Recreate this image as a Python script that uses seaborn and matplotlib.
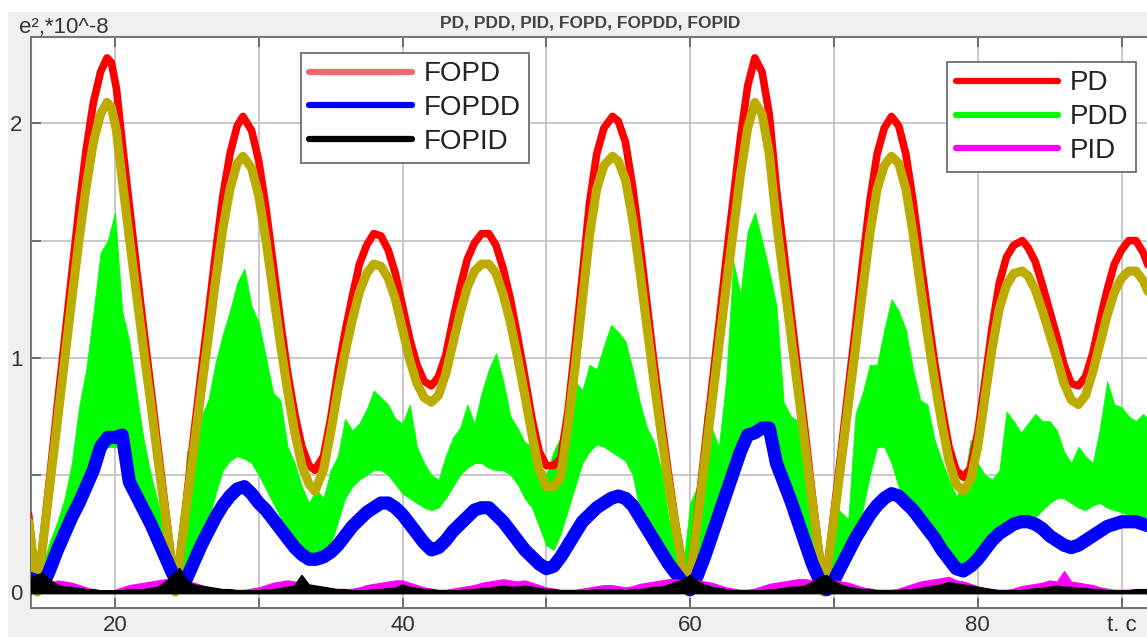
import numpy as np
import matplotlib
matplotlib.use("Agg")
import matplotlib.pyplot as plt
import seaborn as sns
from matplotlib.lines import Line2D
from matplotlib.patches import Rectangle

# ---------------- data ----------------
T_MAIN = [14.0, 14.5, 14.6, 15.0, 15.5, 16.0, 16.5, 17.0, 17.5, 18.0,
          18.5, 19.0, 19.45, 19.75, 20.1, 20.5, 21.0, 21.5, 22.0, 22.5,
          23.0, 23.5, 24.0, 24.2, 24.5, 25.0, 25.5, 26.0, 26.5, 27.0,
          27.5, 28.0, 28.5, 28.9, 29.5, 30.0, 30.5, 31.0, 31.5, 32.0,
          32.5, 33.0, 33.5, 33.9, 34.5, 35.0, 35.5, 36.0, 36.5, 37.0,
          37.5, 38.0, 38.5, 39.0, 39.5, 40.0, 40.5, 41.0, 41.5, 42.0,
          42.5, 43.0, 43.5, 44.0, 44.5, 45.0, 45.5, 46.0, 46.5, 47.0,
          47.5, 48.0, 48.5, 49.0, 49.5, 50.0, 50.5, 51.0, 51.5, 52.0,
          52.5, 53.0, 53.5, 54.0, 54.6, 55.0, 55.5, 56.0, 56.5, 57.0,
          57.5, 58.0, 58.5, 59.0, 59.5, 59.9, 60.5, 61.0, 61.5, 62.0,
          62.5, 63.0, 63.5, 64.0, 64.5, 65.0, 65.5, 66.0, 66.5, 67.0,
          67.5, 68.0, 68.5, 69.0, 69.3, 69.5, 70.0, 70.5, 71.0, 71.5,
          72.0, 72.5, 73.0, 73.5, 74.0, 74.5, 75.0, 75.5, 76.0, 76.5,
          77.0, 77.5, 78.0, 78.5, 79.0, 79.5, 80.0, 80.5, 81.0, 81.5,
          82.0, 82.5, 83.1, 83.5, 84.0, 84.5, 85.0, 85.5, 86.0, 86.5,
          87.0, 87.5, 88.0, 88.5, 89.0, 89.5, 90.0, 90.5, 91.0, 91.5,
          92.0]

PD = [0.33, 0.05, 0.00, 0.23, 0.51, 0.80, 1.08, 1.36, 1.64, 1.89,
      2.09, 2.22, 2.28, 2.26, 2.15, 1.92, 1.65, 1.38, 1.12, 0.87,
      0.61, 0.36, 0.11, 0.00, 0.15, 0.41, 0.68, 0.94, 1.19, 1.45,
      1.69, 1.87, 1.99, 2.03, 1.97, 1.84, 1.64, 1.40, 1.16, 0.94,
      0.76, 0.62, 0.54, 0.52, 0.58, 0.74, 0.94, 1.11, 1.26, 1.40,
      1.48, 1.53, 1.52, 1.46, 1.36, 1.22, 1.08, 0.97, 0.90, 0.88,
      0.92, 1.01, 1.16, 1.30, 1.42, 1.49, 1.53, 1.53, 1.48, 1.38,
      1.25, 1.09, 0.92, 0.74, 0.60, 0.54, 0.54, 0.57, 0.77, 1.05,
      1.35, 1.66, 1.87, 1.98, 2.03, 2.01, 1.92, 1.73, 1.49, 1.23,
      0.97, 0.73, 0.50, 0.29, 0.11, 0.00, 0.33, 0.60, 0.87, 1.14,
      1.42, 1.68, 1.94, 2.16, 2.28, 2.22, 2.04, 1.72, 1.46, 1.20,
      0.94, 0.68, 0.41, 0.16, 0.00, 0.09, 0.34, 0.60, 0.87, 1.13,
      1.41, 1.67, 1.87, 1.98, 2.03, 1.99, 1.87, 1.67, 1.43, 1.20,
      0.98, 0.79, 0.62, 0.52, 0.49, 0.53, 0.68, 0.90, 1.13, 1.32,
      1.43, 1.48, 1.50, 1.47, 1.41, 1.31, 1.20, 1.09, 0.97, 0.89,
      0.88, 0.92, 1.02, 1.16, 1.29, 1.40, 1.46, 1.50, 1.50, 1.45,
      1.37]

FOPD = [0.30, 0.05, 0.00, 0.21, 0.47, 0.73, 0.99, 1.25, 1.50, 1.73,
        1.92, 2.04, 2.09, 2.07, 1.97, 1.76, 1.51, 1.27, 1.03, 0.80,
        0.56, 0.33, 0.10, 0.00, 0.14, 0.38, 0.62, 0.86, 1.09, 1.33,
        1.55, 1.72, 1.83, 1.86, 1.81, 1.69, 1.50, 1.28, 1.06, 0.86,
        0.68, 0.54, 0.46, 0.43, 0.52, 0.68, 0.86, 1.02, 1.16, 1.28,
        1.36, 1.40, 1.39, 1.34, 1.25, 1.12, 0.99, 0.89, 0.83, 0.81,
        0.84, 0.93, 1.06, 1.19, 1.30, 1.37, 1.40, 1.40, 1.36, 1.27,
        1.15, 1.00, 0.84, 0.67, 0.52, 0.45, 0.45, 0.49, 0.71, 0.96,
        1.24, 1.52, 1.72, 1.82, 1.86, 1.84, 1.76, 1.59, 1.37, 1.13,
        0.89, 0.67, 0.46, 0.27, 0.10, 0.00, 0.30, 0.55, 0.80, 1.05,
        1.30, 1.54, 1.78, 1.98, 2.09, 2.04, 1.87, 1.58, 1.34, 1.10,
        0.86, 0.62, 0.38, 0.15, 0.00, 0.08, 0.31, 0.55, 0.80, 1.04,
        1.29, 1.53, 1.72, 1.82, 1.86, 1.83, 1.72, 1.53, 1.31, 1.10,
        0.90, 0.72, 0.56, 0.46, 0.43, 0.48, 0.62, 0.83, 1.04, 1.21,
        1.31, 1.36, 1.37, 1.35, 1.29, 1.20, 1.10, 1.00, 0.89, 0.82,
        0.80, 0.84, 0.94, 1.06, 1.18, 1.28, 1.34, 1.37, 1.37, 1.33,
        1.26]

# sample times of the noisy signals (every 0.5 s, 14 .. 92)
T_GRID = np.arange(14.0, 92.25, 0.5)

FOPDD = [0.06, 0.05, 0.03, 0.10, 0.18, 0.25, 0.32, 0.38, 0.45, 0.52,
         0.62, 0.66, 0.66, 0.67, 0.47, 0.41, 0.35, 0.29, 0.22, 0.15,
         0.08, 0.02, 0.06, 0.13, 0.20, 0.26, 0.32, 0.37, 0.41, 0.44,
         0.45, 0.42, 0.38, 0.35, 0.31, 0.27, 0.23, 0.19, 0.16, 0.14,
         0.14, 0.15, 0.17, 0.20, 0.24, 0.28, 0.31, 0.34, 0.36, 0.38,
         0.38, 0.36, 0.33, 0.29, 0.25, 0.21, 0.18, 0.19, 0.22, 0.26,
         0.29, 0.32, 0.35, 0.36, 0.36, 0.33, 0.30, 0.26, 0.22, 0.18,
         0.15, 0.12, 0.10, 0.11, 0.15, 0.20, 0.25, 0.30, 0.33, 0.36,
         0.38, 0.40, 0.41, 0.40, 0.37, 0.32, 0.27, 0.22, 0.17, 0.12,
         0.08, 0.04, 0.01, 0.07, 0.15, 0.24, 0.33, 0.42, 0.51, 0.60,
         0.67, 0.68, 0.70, 0.70, 0.55, 0.47, 0.39, 0.30, 0.21, 0.12,
         0.05, 0.01, 0.05, 0.11, 0.17, 0.23, 0.28, 0.33, 0.37, 0.40,
         0.42, 0.41, 0.38, 0.35, 0.31, 0.27, 0.23, 0.18, 0.14, 0.10,
         0.09, 0.11, 0.14, 0.18, 0.22, 0.25, 0.27, 0.29, 0.30, 0.30,
         0.29, 0.27, 0.24, 0.22, 0.20, 0.19, 0.20, 0.22, 0.24, 0.26,
         0.28, 0.29, 0.30, 0.30, 0.30, 0.29, 0.28]

PDD_HI = [0.10, 0.18, 0.12, 0.22, 0.30, 0.40, 0.55, 0.79, 0.95, 1.19,
          1.45, 1.50, 1.62, 1.20, 1.07, 0.85, 0.65, 0.50, 0.38, 0.25,
          0.12, 0.05, 0.60, 0.62, 0.75, 0.82, 0.98, 1.10, 1.20, 1.32,
          1.38, 1.22, 1.15, 1.00, 0.85, 0.82, 0.62, 0.55, 0.45, 0.38,
          0.44, 0.40, 0.52, 0.58, 0.74, 0.69, 0.72, 0.78, 0.86, 0.83,
          0.80, 0.74, 0.72, 0.80, 0.62, 0.55, 0.50, 0.48, 0.58, 0.66,
          0.70, 0.80, 0.72, 0.85, 0.95, 1.02, 0.90, 0.75, 0.70, 0.64,
          0.62, 0.55, 0.50, 0.60, 0.66, 0.80, 0.90, 0.86, 0.97, 0.95,
          1.05, 1.14, 1.11, 1.07, 0.95, 0.81, 0.70, 0.64, 0.52, 0.31,
          0.24, 0.10, 0.38, 0.45, 0.76, 0.70, 0.62, 0.90, 1.41, 1.27,
          1.54, 1.62, 1.50, 1.37, 1.22, 0.81, 0.75, 0.73, 0.45, 0.28,
          0.13, 0.06, 0.38, 0.34, 0.31, 0.76, 0.85, 0.97, 0.97, 1.12,
          1.25, 1.20, 1.12, 0.95, 0.82, 0.80, 0.65, 0.56, 0.48, 0.41,
          0.45, 0.65, 0.55, 0.50, 0.48, 0.52, 0.77, 0.73, 0.68, 0.72,
          0.76, 0.73, 0.73, 0.69, 0.60, 0.55, 0.62, 0.58, 0.55, 0.70,
          0.90, 0.80, 0.79, 0.75, 0.73, 0.76, 0.73]

PDD_LO = [0.02, 0.02, 0.01, 0.08, 0.15, 0.22, 0.29, 0.35, 0.42, 0.48,
          0.58, 0.62, 0.62, 0.62, 0.45, 0.39, 0.33, 0.27, 0.20, 0.13,
          0.06, 0.01, 0.06, 0.13, 0.22, 0.30, 0.42, 0.52, 0.56, 0.58,
          0.57, 0.55, 0.50, 0.44, 0.38, 0.32, 0.27, 0.22, 0.18, 0.16,
          0.15, 0.16, 0.20, 0.30, 0.40, 0.45, 0.48, 0.50, 0.52, 0.52,
          0.50, 0.46, 0.42, 0.40, 0.38, 0.36, 0.35, 0.36, 0.40, 0.45,
          0.50, 0.53, 0.55, 0.55, 0.53, 0.52, 0.52, 0.50, 0.46, 0.40,
          0.36, 0.28, 0.20, 0.18, 0.25, 0.35, 0.45, 0.55, 0.60, 0.63,
          0.62, 0.60, 0.58, 0.56, 0.50, 0.35, 0.25, 0.20, 0.15, 0.10,
          0.06, 0.03, 0.01, 0.05, 0.13, 0.22, 0.31, 0.40, 0.49, 0.58,
          0.65, 0.66, 0.68, 0.68, 0.53, 0.45, 0.37, 0.28, 0.19, 0.10,
          0.04, 0.01, 0.04, 0.10, 0.16, 0.22, 0.35, 0.50, 0.62, 0.62,
          0.55, 0.45, 0.36, 0.33, 0.29, 0.25, 0.21, 0.16, 0.12, 0.09,
          0.08, 0.10, 0.13, 0.17, 0.21, 0.25, 0.28, 0.30, 0.31, 0.31,
          0.32, 0.35, 0.38, 0.40, 0.40, 0.38, 0.36, 0.35, 0.37, 0.38,
          0.36, 0.35, 0.34, 0.33, 0.33, 0.32, 0.32]

PID = [0.02, 0.02, 0.03, 0.04, 0.05, 0.045, 0.04, 0.03, 0.02, 0.01,
       0.005, 0.005, 0.01, 0.02, 0.03, 0.035, 0.04, 0.045, 0.05, 0.055,
       0.045, 0.035, 0.045, 0.04, 0.03, 0.02, 0.015, 0.01, 0.01, 0.01,
       0.01, 0.015, 0.02, 0.03, 0.04, 0.045, 0.05, 0.045, 0.04, 0.03,
       0.025, 0.02, 0.015, 0.01, 0.01, 0.015, 0.02, 0.03, 0.035, 0.04,
       0.045, 0.05, 0.05, 0.04, 0.03, 0.02, 0.015, 0.01, 0.01, 0.015,
       0.02, 0.025, 0.03, 0.04, 0.045, 0.05, 0.055, 0.05, 0.045, 0.05,
       0.04, 0.03, 0.02, 0.015, 0.01, 0.01, 0.01, 0.015, 0.02, 0.025,
       0.03, 0.03, 0.025, 0.02, 0.025, 0.035, 0.04, 0.045, 0.05, 0.055,
       0.055, 0.05, 0.04, 0.05, 0.045, 0.04, 0.03, 0.02, 0.015, 0.01,
       0.01, 0.015, 0.025, 0.035, 0.04, 0.045, 0.05, 0.055, 0.055, 0.05,
       0.045, 0.04, 0.05, 0.045, 0.04, 0.03, 0.02, 0.015, 0.01, 0.01,
       0.01, 0.015, 0.025, 0.035, 0.045, 0.05, 0.055, 0.06, 0.065, 0.05,
       0.045, 0.035, 0.025, 0.015, 0.01, 0.01, 0.01, 0.015, 0.025, 0.03,
       0.035, 0.04, 0.05, 0.045, 0.09, 0.045, 0.04, 0.035, 0.03, 0.02,
       0.015, 0.01, 0.01, 0.01, 0.01, 0.01, 0.01]

FOPID = [0.05, 0.07, 0.08, 0.05, 0.03, 0.02, 0.02, 0.015, 0.01, 0.01,
         0.005, 0.005, 0.005, 0.005, 0.01, 0.01, 0.01, 0.015, 0.02, 0.04,
         0.07, 0.10, 0.05, 0.03, 0.025, 0.02, 0.015, 0.01, 0.01, 0.005,
         0.005, 0.005, 0.005, 0.01, 0.01, 0.015, 0.02, 0.025, 0.07, 0.03,
         0.025, 0.02, 0.015, 0.01, 0.01, 0.005, 0.005, 0.005, 0.01, 0.01,
         0.015, 0.015, 0.03, 0.02, 0.015, 0.01, 0.01, 0.005, 0.005, 0.005,
         0.005, 0.01, 0.01, 0.015, 0.015, 0.02, 0.025, 0.02, 0.02, 0.025,
         0.02, 0.015, 0.01, 0.01, 0.005, 0.005, 0.005, 0.005, 0.005, 0.01,
         0.01, 0.01, 0.01, 0.005, 0.01, 0.01, 0.015, 0.02, 0.02, 0.03,
         0.04, 0.05, 0.07, 0.045, 0.03, 0.02, 0.015, 0.01, 0.005, 0.005,
         0.005, 0.005, 0.005, 0.01, 0.01, 0.015, 0.02, 0.02, 0.025, 0.04,
         0.06, 0.07, 0.045, 0.03, 0.02, 0.015, 0.01, 0.01, 0.005, 0.005,
         0.005, 0.005, 0.01, 0.01, 0.015, 0.02, 0.025, 0.03, 0.04, 0.035,
         0.03, 0.025, 0.02, 0.015, 0.01, 0.005, 0.005, 0.005, 0.005, 0.01,
         0.015, 0.015, 0.02, 0.025, 0.02, 0.02, 0.015, 0.015, 0.01, 0.01,
         0.005, 0.005, 0.005, 0.005, 0.01, 0.01, 0.01]

X_TICKS = [20, 30, 40, 50, 60, 70, 80, 90]
X_LABELS = ["20", "", "40", "", "60", "", "80", "t. c"]
Y_TICKS = [0, 0.5, 1, 1.5, 2]
Y_LABELS = ["0", "", "1", "", "2"]
LEG_LEFT = ["FOPD", "FOPDD", "FOPID"]
LEG_RIGHT = ["PD", "PDD", "PID"]
TITLE = "PD, PDD, PID, FOPD, FOPDD, FOPID"
YLABEL = "e\u00b2,*10^-8"

# ---------------- style ----------------
sns.set_style("white")
plt.rcParams["font.family"] = ["Liberation Sans", "DejaVu Sans"]

C_PD = "#ff0000"
C_PDD = "#00ff00"
C_PID = "#ff00ff"
C_FOPD_LEG = "#f06a6a"
C_FOPD = "#bdac00"
C_FOPDD = "#0000ff"
C_FOPID = "#000000"

W, H = 1147, 637
fig = plt.figure(figsize=(W / 100, H / 100), dpi=100)
fig.patch.set_facecolor("#f0f0f0")
fig.add_artist(Rectangle((0, 1 - 12 / H), 1, 12 / H, transform=fig.transFigure,
                         facecolor="white", edgecolor="none", zorder=-5))
fig.add_artist(Rectangle((0, 0), 8 / W, 1, transform=fig.transFigure,
                         facecolor="white", edgecolor="none", zorder=-5))

ax = fig.add_axes([31 / W, 29 / H, 1116 / W, 571 / H])
ax.set_facecolor("white")

line_kw = dict(ax=ax, estimator=None, sort=False, legend=False)
# green PDD band
ax.fill_between(T_GRID, PDD_LO, PDD_HI, color=C_PDD, lw=0.6, edgecolor=C_PDD, zorder=2)
# PD (red) and FOPD (olive)
sns.lineplot(x=T_MAIN, y=PD, color=C_PD, linewidth=5.5, zorder=3,
             solid_joinstyle="round", **line_kw)
sns.lineplot(x=T_MAIN, y=FOPD, color=C_FOPD, linewidth=6.5, zorder=4,
             solid_joinstyle="round", **line_kw)
# FOPDD (blue)
sns.lineplot(x=T_GRID, y=FOPDD, color=C_FOPDD, linewidth=9.5, zorder=5,
             solid_joinstyle="round", **line_kw)
# PID (magenta) and FOPID (black)
ax.fill_between(T_GRID, 0, PID, color=C_PID, lw=0.8, edgecolor=C_PID, zorder=6)
ax.fill_between(T_GRID, -0.006, FOPID, color=C_FOPID, lw=0.6, edgecolor=C_FOPID, zorder=7)
sns.lineplot(x=T_GRID, y=FOPID, color=C_FOPID, linewidth=1.2, zorder=7, **line_kw)

ax.set_xlim(14.161, 91.77)
ax.set_ylim(-0.068, 2.369)
ax.set_xticks(X_TICKS)
ax.set_xticklabels(X_LABELS)
ax.set_yticks(Y_TICKS)
ax.set_yticklabels(Y_LABELS)
ax.set_xlabel("")
ax.set_ylabel("")
ax.grid(True, color="#c4c4c4", linewidth=1.3)
ax.set_axisbelow(True)
ax.tick_params(axis="both", direction="in", length=7, width=1.3, color="#666666",
               labelsize=16, labelcolor="#333333")
ax.tick_params(axis="x", top=True, bottom=True, pad=5)
ax.tick_params(axis="y", left=True, right=False, pad=6)
for s in ["left", "top", "bottom"]:
    ax.spines[s].set_visible(True)
    ax.spines[s].set_color("#777777")
    ax.spines[s].set_linewidth(1.5)
ax.spines["right"].set_visible(False)

# texts
fig.text(19 / W, 1 - 27 / H, YLABEL, ha="left", va="center", fontsize=16, color="#333333")
fig.text(590 / W, 1 - 23 / H, TITLE, ha="center", va="center", fontsize=12.5,
         color="#444444", fontweight="bold")

# legends
def handles(colors):
    return [Line2D([], [], color=c, linewidth=4.5, solid_capstyle="round") for c in colors]

leg_kw = dict(fontsize=20, frameon=True, fancybox=False, framealpha=1, edgecolor="#6e6e6e",
              handlelength=3.7, handletextpad=0.4, labelspacing=0.28, borderpad=0.3,
              borderaxespad=0, labelcolor="#222222", loc="upper left")
leg1 = ax.legend(handles([C_FOPD_LEG, C_FOPDD, C_FOPID]), LEG_LEFT,
                 bbox_to_anchor=(0.242, 0.972), **leg_kw)
leg1.get_frame().set_linewidth(1.3)
ax.add_artist(leg1)
leg2 = ax.legend(handles([C_PD, C_PDD, C_PID]), LEG_RIGHT,
                 bbox_to_anchor=(0.821, 0.956), **leg_kw)
leg2.get_frame().set_linewidth(1.3)
leg1.set_zorder(10)
leg2.set_zorder(10)

fig.savefig("out.png", dpi=100, facecolor=fig.get_facecolor())
